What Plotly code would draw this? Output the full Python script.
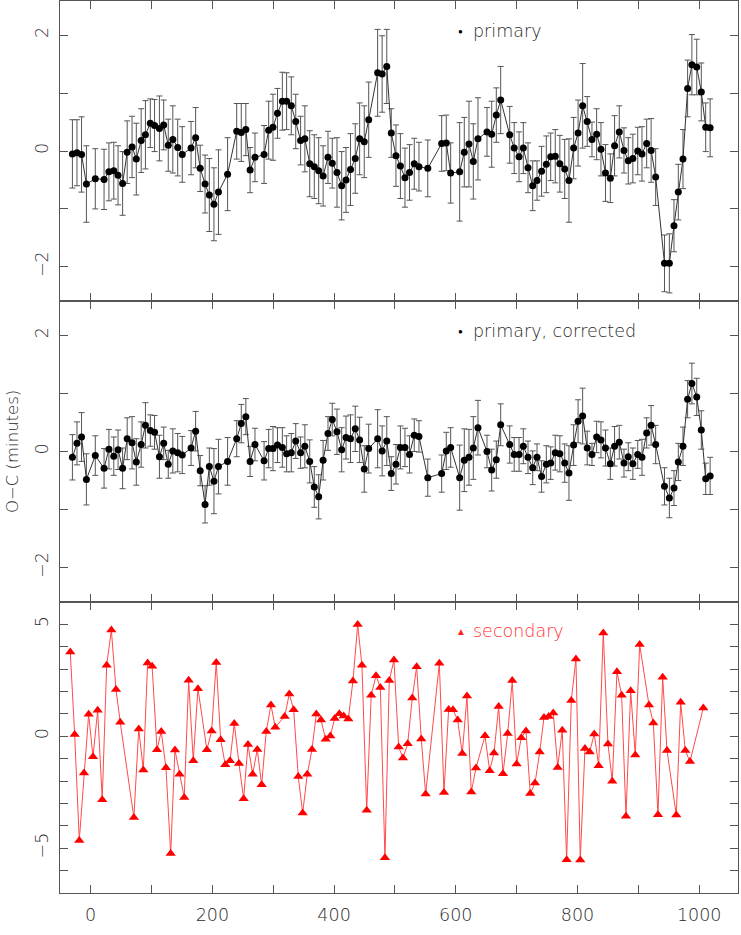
import plotly.graph_objects as go
from plotly.subplots import make_subplots

# epochs of primary minima (shared by both primary panels)
x_pri = [-30, -22.5, -15, -7, 7.6, 22, 30, 38, 45, 52.5,
         60, 68, 75, 83, 90, 98, 105, 113, 120, 127.5,
         135, 143, 150.5, 165, 172.5, 180, 188, 195, 202.6, 210,
         225, 240, 247.5, 255, 262, 270, 285, 292.5, 299.6, 307,
         315, 322, 329.7, 337, 345, 352, 360, 367.5, 374.7, 382,
         390, 397, 404.8, 412.5, 419.6, 427, 434.8, 442, 449.6, 456.9,
         471.6, 479, 486.6, 494, 501.7, 509, 516.5, 524, 531.8, 539.5,
         554, 576.8, 584.4, 591.6, 606.4, 614, 621.7, 628.8, 636.5, 651.3,
         659, 666.6, 673.8, 688.6, 696, 704, 711, 718.7, 726.4, 733.5,
         741, 748.8, 756, 763.5, 771, 779, 786, 793.7, 801, 808.5,
         816, 823.8, 831.5, 838.6, 846, 854, 861, 868.7, 876.4, 883.5,
         891, 899, 906, 913.7, 921, 928.5, 943, 951, 958.6, 965.7,
         973.4, 981, 988, 996, 1003.5, 1010.7, 1018]

oc_pri = [-0.05, -0.03, -0.06, -0.57, -0.48, -0.49, -0.36, -0.34, -0.42, -0.56,
          -0.02, 0.07, -0.14, 0.18, 0.28, 0.48, 0.44, 0.39, 0.45, 0.10,
          0.20, 0.06, -0.06, 0.05, 0.23, -0.30, -0.57, -0.76, -0.92, -0.71,
          -0.40, 0.34, 0.32, 0.37, -0.33, -0.11, -0.06, 0.36, 0.41, 0.65,
          0.86, 0.86, 0.78, 0.51, 0.18, 0.21, -0.22, -0.27, -0.34, -0.43,
          -0.11, -0.21, -0.37, -0.60, -0.50, -0.32, -0.13, 0.21, 0.16, 0.54,
          1.35, 1.33, 1.46, 0.31, -0.08, -0.26, -0.46, -0.37, -0.22, -0.27,
          -0.30, 0.13, 0.14, -0.38, -0.36, -0.02, 0.12, -0.18, 0.21, 0.33,
          0.29, 0.62, 0.88, 0.28, 0.05, -0.10, 0.05, -0.29, -0.60, -0.51,
          -0.35, -0.23, -0.10, -0.09, -0.22, -0.31, -0.51, 0.05, 0.31, 0.78,
          0.51, 0.20, 0.29, 0.03, -0.38, -0.47, 0.09, 0.33, 0.01, -0.17,
          -0.13, 0.0, -0.05, 0.13, 0.01, -0.45, -1.94, -1.94, -1.29, -0.71,
          -0.14, 1.08, 1.49, 1.45, 1.02, 0.41, 0.40]

err_pri = [0.59, 0.57, 0.65, 0.66, 0.52, 0.52, 0.50, 0.49, 0.51, 0.55,
           0.54, 0.53, 0.62, 0.55, 0.59, 0.42, 0.45, 0.56, 0.43, 0.45,
           0.58, 0.49, 0.48, 0.46, 0.52, 0.40, 0.50, 0.63, 0.63, 0.73,
           0.63, 0.48, 0.50, 0.45, 0.39, 0.42, 0.50, 0.50, 0.57, 0.43,
           0.50, 0.49, 0.50, 0.47, 0.42, 0.57, 0.57, 0.55, 0.57, 0.52,
           0.45, 0.43, 0.60, 0.59, 0.56, 0.62, 0.60, 0.62, 0.62, 0.65,
           0.75, 0.66, 0.64, 0.42, 0.53, 0.56, 0.51, 0.48, 0.44, 0.42,
           0.49, 0.48, 0.48, 0.52, 0.85, 0.60, 0.74, 0.65, 0.71, 0.42,
           0.57, 0.47, 0.58, 0.49, 0.44, 0.43, 0.44, 0.43, 0.43, 0.34,
           0.43, 0.49, 0.41, 0.46, 0.49, 0.51, 0.72, 0.53, 0.57, 0.73,
           0.43, 0.30, 0.44, 0.46, 0.49, 0.42, 0.52, 0.45, 0.39, 0.40,
           0.42, 0.41, 0.47, 0.42, 0.55, 0.49, 0.49, 0.51, 0.45, 0.48,
           0.51, 0.49, 0.52, 0.48, 0.50, 0.42, 0.50]

oc_cor = [-0.10, 0.14, 0.25, -0.48, -0.07, -0.29, 0.04, -0.08, 0.03, -0.29,
          0.22, 0.15, -0.18, 0.12, 0.45, 0.36, 0.33, -0.09, 0.14, -0.22,
          0.01, -0.02, -0.06, 0.06, 0.35, -0.33, -0.91, -0.26, -0.51, -0.26,
          -0.17, 0.22, 0.48, 0.60, -0.17, 0.12, -0.16, 0.05, 0.05, 0.11,
          0.07, -0.04, -0.02, 0.18, -0.02, 0.09, -0.17, -0.61, -0.78, -0.15,
          0.31, 0.55, 0.34, 0.03, 0.24, 0.22, 0.39, 0.20, -0.30, 0.05,
          0.22, 0.01, 0.18, -0.38, -0.22, 0.07, 0.07, -0.05, 0.28, 0.26,
          -0.45, -0.38, 0.01, 0.07, -0.45, -0.15, -0.10, 0.06, 0.41, 0.0,
          -0.32, -0.14, 0.46, 0.12, -0.05, -0.05, 0.09, -0.10, -0.28, -0.10,
          -0.43, -0.22, -0.20, -0.02, -0.04, -0.20, -0.37, 0.11, 0.52, 0.61,
          0.06, -0.05, 0.25, 0.20, 0.06, -0.21, 0.09, 0.16, -0.20, -0.09,
          -0.21, -0.05, -0.10, 0.32, 0.45, 0.12, -0.60, -0.80, -0.63, -0.18,
          0.09, 0.90, 1.17, 0.94, 0.37, -0.47, -0.42]

err_cor = [0.39, 0.37, 0.42, 0.44, 0.34, 0.34, 0.34, 0.33, 0.34, 0.35,
           0.36, 0.45, 0.40, 0.39, 0.39, 0.27, 0.29, 0.37, 0.28, 0.24,
           0.38, 0.33, 0.32, 0.30, 0.34, 0.26, 0.32, 0.32, 0.56, 0.47,
           0.41, 0.31, 0.33, 0.31, 0.26, 0.28, 0.33, 0.33, 0.38, 0.30,
           0.34, 0.31, 0.33, 0.30, 0.27, 0.37, 0.37, 0.35, 0.38, 0.34,
           0.29, 0.28, 0.39, 0.38, 0.37, 0.41, 0.39, 0.39, 0.40, 0.42,
           0.50, 0.43, 0.42, 0.29, 0.34, 0.37, 0.33, 0.32, 0.28, 0.27,
           0.32, 0.32, 0.32, 0.34, 0.56, 0.54, 0.48, 0.54, 0.47, 0.28,
           0.36, 0.32, 0.36, 0.32, 0.29, 0.29, 0.30, 0.28, 0.29, 0.23,
           0.27, 0.32, 0.28, 0.30, 0.31, 0.33, 0.47, 0.35, 0.37, 0.48,
           0.29, 0.19, 0.27, 0.31, 0.31, 0.27, 0.34, 0.29, 0.24, 0.24,
           0.27, 0.24, 0.31, 0.26, 0.34, 0.33, 0.32, 0.34, 0.30, 0.32,
           0.33, 0.32, 0.35, 0.32, 0.33, 0.27, 0.32]

x_sec = [-33.5, -26.3, -18.7, -11, -3.3, 3.8, 11.5, 19, 26.3, 34,
         41.6, 48.6, 71, 79, 86.5, 93.6, 101, 109, 116, 123.7,
         131.5, 138.5, 146, 153.8, 161, 168.6, 176.3, 191, 198.8, 206.4,
         213.6, 221.2, 229, 236, 243.7, 251.4, 258.5, 266.2, 273.8, 281,
         288.6, 296.3, 303.4, 318.8, 326.4, 333.6, 341.2, 348.4, 356, 363.7,
         370.8, 378.5, 386.2, 393.8, 401, 408.6, 415.8, 423.4, 431, 438.8,
         445.8, 453.6, 461, 468.9, 476, 483.6, 490.7, 498.4, 506.2, 513.2,
         521, 528.5, 535.7, 543.3, 550.5, 573, 580.6, 588.3, 595.4, 603.1,
         610.7, 618.4, 625.5, 633.2, 648, 655.7, 662.8, 670.5, 677.6, 685.3,
         692.8, 700, 707.6, 715.4, 722.4, 730.2, 737.9, 745, 752.7, 760.2,
         767.5, 775, 782.2, 789.8, 797.5, 804.6, 812.3, 820, 827.6, 834.8,
         842.4, 850.1, 857.2, 864.9, 872.6, 879.7, 887.4, 895, 902.2, 917.5,
         924.6, 932.3, 940, 947.1, 962.4, 969.6, 977.2, 984.9, 1006.8]

oc_sec = [3.77, 0.08, -4.65, -1.64, 0.98, -0.91, 1.16, -2.83, 3.17, 4.75,
          2.09, 0.63, -3.63, 0.33, -1.51, 3.27, 3.13, -0.60, 0.22, -1.40,
          -5.24, -0.61, -1.69, -2.73, 2.50, -1.09, 2.13, -0.60, 0.24, 3.30,
          -0.15, -1.27, -1.09, 0.57, -1.21, -2.79, -0.37, -1.69, -0.59, -2.16,
          0.22, 1.40, 0.40, 0.89, 1.89, 1.19, -1.80, -3.43, -1.69, -0.59,
          1.0, 0.73, -0.13, 0.01, 0.80, 1.01, 0.91, 0.77, 2.47, 4.99,
          3.17, -3.30, 1.83, 2.71, 2.18, -5.43, 2.49, 3.41, -0.48, -0.97,
          -0.33, 1.71, 3.11, -0.12, -2.58, 3.26, -2.51, 1.20, 1.19, 0.73,
          -0.77, 1.80, -2.49, -1.42, 0.02, -1.54, -0.75, 1.33, -1.67, 0.12,
          2.49, -1.24, -0.06, 0.24, -2.56, -2.09, -0.70, 0.84, 0.88, 1.04,
          -1.39, 0.27, -5.52, 1.60, 3.45, -5.53, -0.54, -0.70, 0.10, -1.31,
          4.62, -0.34, -2.01, 2.88, 1.83, -3.57, 2.03, -0.84, 4.10, 1.40,
          0.60, -3.50, 2.64, -0.63, -3.52, 1.52, -0.63, -1.13, 1.27]

GREY = "#555555"
TXT = "#2a2a2a"
FONT = "DejaVu Sans"

fig = make_subplots(rows=3, cols=1, shared_xaxes=True, vertical_spacing=0,
                    row_heights=[300 / 892, 301 / 892, 291 / 892])

fig.add_trace(go.Scatter(
    x=x_pri, y=oc_pri, mode="lines+markers",
    line=dict(color="#333333", width=1),
    marker=dict(color="black", size=7),
    error_y=dict(type="data", array=err_pri, color="#555555", thickness=1, width=3),
    showlegend=False,
), row=1, col=1)

fig.add_trace(go.Scatter(
    x=x_pri, y=oc_cor, mode="lines+markers",
    line=dict(color="#333333", width=1),
    marker=dict(color="black", size=7),
    error_y=dict(type="data", array=err_cor, color="#555555", thickness=1, width=3),
    showlegend=False,
), row=2, col=1)

fig.add_trace(go.Scatter(
    x=x_sec, y=oc_sec, mode="lines+markers",
    line=dict(color="#ff4a4a", width=1),
    marker=dict(color="#ff0000", size=9, symbol="triangle-up"),
    showlegend=False,
), row=3, col=1)

axis_style = dict(showline=True, linecolor=GREY, linewidth=1, mirror="allticks",
                  ticks="inside", ticklen=8, tickcolor=GREY, tickwidth=1,
                  showgrid=False, zeroline=False)

x_ticks = list(range(0, 1001, 100))
x_text = [str(v) if v % 200 == 0 else "" for v in x_ticks]
for r in (1, 2, 3):
    fig.update_xaxes(range=[-50.4, 1063.8], tickvals=x_ticks, ticktext=x_text,
                     ticklabelstandoff=6, row=r, col=1, **axis_style)

y_ticks = [-2, -1, 0, 1, 2]
y_text = ["\u22122", "", "0", "", "2"]
for r in (1, 2):
    fig.update_yaxes(range=[-2.59, 2.59], tickvals=y_ticks, ticktext=y_text,
                     tickangle=-90, ticklabelstandoff=4, row=r, col=1, **axis_style)

y3_ticks = list(range(-6, 6))
y3_text = {-5: "\u22125", 0: "0", 5: "5"}
fig.update_yaxes(range=[-7.0, 6.0], tickvals=y3_ticks,
                 ticktext=[y3_text.get(v, "") for v in y3_ticks],
                 tickangle=-90, ticklabelstandoff=4, row=3, col=1, **axis_style)

# in-panel labels
labels = [
    ("\u25cf", 8, "black", TXT, "primary", "y domain", 30),
    ("\u25cf", 8, "black", TXT, "primary, corrected", "y2 domain", 30),
    ("\u25b2", 10, "#ff2020", "#ff3030", "secondary", "y3 domain", 29),
]
for sym, ssize, scol, tcol, txt, yref, dy in labels:
    fig.add_annotation(xref="paper", yref=yref, x=(461 - 60) / 678, y=1,
                       yshift=-dy, text=sym, showarrow=False,
                       font=dict(family=FONT, size=ssize, color=scol),
                       xanchor="center", yanchor="middle")
    fig.add_annotation(xref="paper", yref=yref, x=(471 - 60) / 678, y=1,
                       yshift=-dy, text=txt, showarrow=False,
                       font=dict(family=FONT, size=17.5, color=tcol, weight=200),
                       xanchor="left", yanchor="middle")

fig.add_annotation(xref="paper", yref="paper", x=(12 - 60) / 678,
                   y=(935 - 42 - 452) / 892, text="O\u2212C (minutes)",
                   textangle=-90, showarrow=False,
                   font=dict(family=FONT, size=16.5, color=TXT, weight=200),
                   xanchor="center", yanchor="middle")

fig.update_layout(
    width=741, height=935,
    margin=dict(l=60, r=3, t=1, b=42),
    paper_bgcolor="white", plot_bgcolor="white",
    font=dict(family=FONT, size=17.5, color=TXT, weight=200),
)

fig.write_html("out.html", config={"displayModeBar": False},
               post_script="document.body.style.margin='0';")
